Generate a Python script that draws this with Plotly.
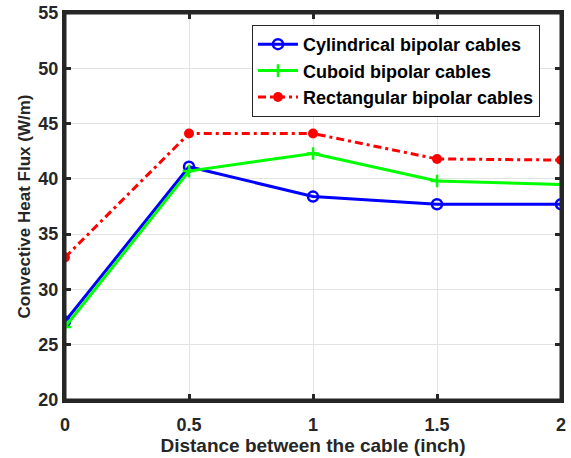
import plotly.graph_objects as go

distance = [0, 0.5, 1, 1.5, 2]
cylindrical = [27.1, 41.1, 38.4, 37.7, 37.7]
cuboid = [26.6, 40.7, 42.3, 39.8, 39.5]
rectangular = [32.9, 44.1, 44.1, 41.8, 41.7]

x_ticks = [0, 0.5, 1, 1.5, 2]
x_tick_labels = ["0", "0.5", "1", "1.5", "2"]
y_ticks = [20, 25, 30, 35, 40, 45, 50, 55]

series_names = ["Cylindrical bipolar cables", "Cuboid bipolar cables", "Rectangular bipolar cables"]

fig = go.Figure()
fig.add_trace(go.Scatter(
    x=distance, y=cylindrical, name=series_names[0],
    mode="lines+markers",
    line=dict(color="#0000ff", width=3),
    marker=dict(symbol="circle-open", size=10, color="#0000ff", line=dict(width=2.5)),
))
fig.add_trace(go.Scatter(
    x=distance, y=cuboid, name=series_names[1],
    mode="lines+markers",
    line=dict(color="#00ff00", width=3),
    marker=dict(symbol="cross-thin", size=9, color="#00ff00", line=dict(width=2.5, color="#00ff00")),
))
fig.add_trace(go.Scatter(
    x=distance, y=rectangular, name=series_names[2],
    mode="lines+markers",
    line=dict(color="#ff0000", width=3, dash="8px,4px,3px,4px"),
    marker=dict(symbol="circle", size=10, color="#ff0000"),
))

font_family = "Arial, Liberation Sans, sans-serif"

axis_common = dict(
    showline=True, linewidth=3, linecolor="#262626", mirror="ticks",
    ticks="inside", ticklen=6, tickwidth=3, tickcolor="#262626",
    showgrid=True, gridcolor="#e3e3e3", gridwidth=1, zeroline=False,
    tickfont=dict(family=font_family, size=18, color="#262626", weight="bold"),
)

fig.update_layout(
    width=571, height=458,
    autosize=False,
    margin=dict(l=65, r=10, t=13, b=58, autoexpand=False),
    paper_bgcolor="white", plot_bgcolor="white",
    font=dict(family=font_family, color="#262626"),
    xaxis=dict(
        range=[0, 2], tickvals=x_ticks, ticktext=x_tick_labels,
        ticklabelstandoff=6,
        title=dict(text="Distance between the cable (inch)",
                   font=dict(size=19, color="#262626", weight="bold"), standoff=3),
        **axis_common,
    ),
    yaxis=dict(
        range=[20, 55], tickvals=y_ticks,
        title=dict(text="Convective Heat Flux (W/m)",
                   font=dict(size=17, color="#262626", weight="bold"), standoff=4),
        **axis_common,
    ),
    legend=dict(
        x=0.377, y=0.969, xanchor="left", yanchor="top",
        bgcolor="white", bordercolor="#262626", borderwidth=1,
        font=dict(family=font_family, size=18, color="black", weight="bold"),
        tracegroupgap=0, itemwidth=40,
    ),
    shapes=[dict(type="rect", xref="paper", yref="paper", x0=0, x1=1, y0=0, y1=1,
                 line=dict(color="#262626", width=3), layer="above")],
)

fig.write_html("out.html", config={"displayModeBar": False},
               post_script="document.body.style.margin='0';document.body.style.padding='0';")
